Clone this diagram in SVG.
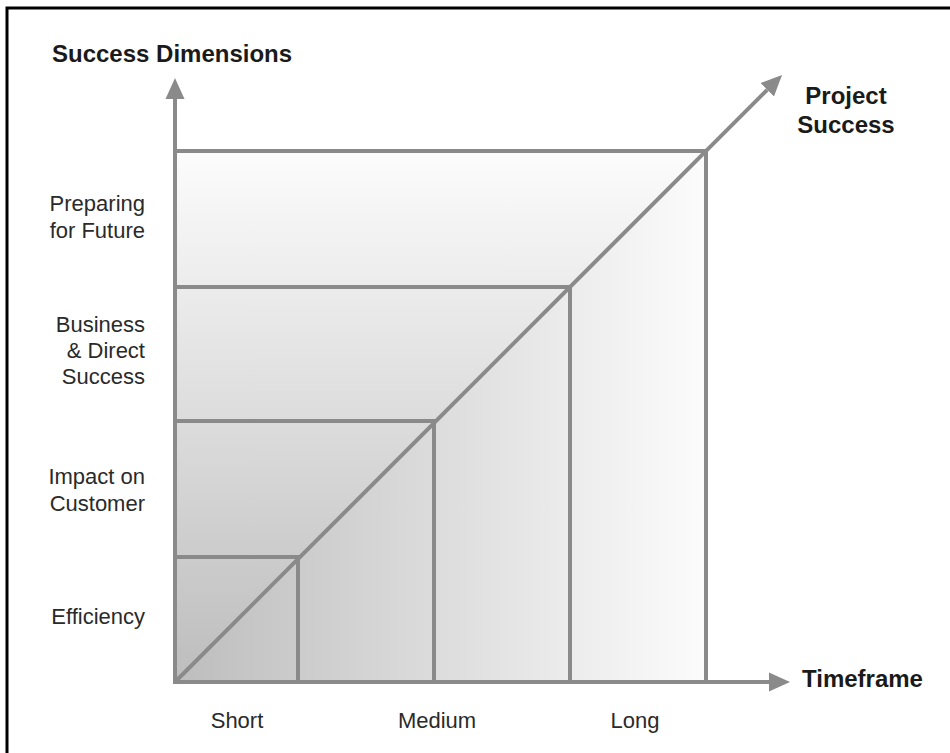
<svg xmlns="http://www.w3.org/2000/svg" width="950" height="753" viewBox="0 0 950 753">
  <style>
    .grid { stroke: #8a8a8a; stroke-width: 4; fill: none; }
    .axis { stroke: #8a8a8a; stroke-width: 4; fill: none; marker-end: url(#arrow); }
    .title { font-family: "Liberation Sans", Arial, sans-serif; font-weight: bold; font-size: 24px; fill: #1a1a1a; }
    .label { font-family: "Liberation Sans", Arial, sans-serif; font-size: 22px; fill: #2a2a2a; }
  </style>
  <defs>
    <linearGradient id="gradV" x1="0" y1="151" x2="0" y2="682" gradientUnits="userSpaceOnUse">
      <stop offset="0" stop-color="#fcfcfc"/>
      <stop offset="1" stop-color="#bdbdbd"/>
    </linearGradient>
    <linearGradient id="gradH" x1="175" y1="0" x2="706" y2="0" gradientUnits="userSpaceOnUse">
      <stop offset="0" stop-color="#bdbdbd"/>
      <stop offset="1" stop-color="#fcfcfc"/>
    </linearGradient>
    <marker id="arrow" markerUnits="userSpaceOnUse" markerWidth="24" markerHeight="22" viewBox="0 -11 24 22" refX="0" refY="0" orient="auto">
      <path d="M0,-9.5 L21,0 L0,9.5 z" fill="#8a8a8a"/>
    </marker>
  </defs>

  <rect x="0" y="0" width="950" height="753" fill="#ffffff"/>
  <rect id="frame" x="7" y="8" width="1000" height="1000" fill="none" stroke="#000000" stroke-width="3"/>

  <g id="shading">
    <polygon points="175,682 175,151 706,151" fill="url(#gradV)"/>
    <polygon points="175,682 706,682 706,151" fill="url(#gradH)"/>
  </g>

  <g id="grid">
    <line class="grid" x1="175" y1="151" x2="708" y2="151"/>
    <line class="grid" x1="175" y1="287" x2="572" y2="287"/>
    <line class="grid" x1="175" y1="421" x2="436" y2="421"/>
    <line class="grid" x1="175" y1="557" x2="300" y2="557"/>
    <line class="grid" x1="298" y1="555" x2="298" y2="682"/>
    <line class="grid" x1="434" y1="419" x2="434" y2="682"/>
    <line class="grid" x1="570" y1="285" x2="570" y2="682"/>
    <line class="grid" x1="706" y1="149" x2="706" y2="682"/>
  </g>

  <g id="connectors">
    <line id="y-axis" class="axis" x1="175" y1="684" x2="175" y2="99"/>
    <line id="x-axis" class="axis" x1="173" y1="682" x2="769" y2="682"/>
    <line id="diagonal" class="axis" x1="175" y1="682" x2="767.2" y2="89.8"/>
  </g>

  <g id="axis-title-y"><text class="title" x="52" y="62">Success Dimensions</text></g>
  <g id="axis-title-diag"><text class="title" text-anchor="middle"><tspan x="846" y="104">Project</tspan><tspan x="846" y="133">Success</tspan></text></g>
  <g id="axis-title-x"><text class="title" x="802" y="687">Timeframe</text></g>

  <g id="label-future"><text class="label" text-anchor="end"><tspan x="145" y="211">Preparing</tspan><tspan x="145" y="238">for Future</tspan></text></g>
  <g id="label-business"><text class="label" text-anchor="end"><tspan x="145" y="332">Business</tspan><tspan x="145" y="358">&amp; Direct</tspan><tspan x="145" y="384">Success</tspan></text></g>
  <g id="label-customer"><text class="label" text-anchor="end"><tspan x="145" y="484">Impact on</tspan><tspan x="145" y="511">Customer</tspan></text></g>
  <g id="label-efficiency"><text class="label" text-anchor="end" x="145" y="624">Efficiency</text></g>

  <g id="label-short"><text class="label" text-anchor="middle" x="237" y="728">Short</text></g>
  <g id="label-medium"><text class="label" text-anchor="middle" x="437" y="728">Medium</text></g>
  <g id="label-long"><text class="label" text-anchor="middle" x="635" y="728">Long</text></g>
</svg>
